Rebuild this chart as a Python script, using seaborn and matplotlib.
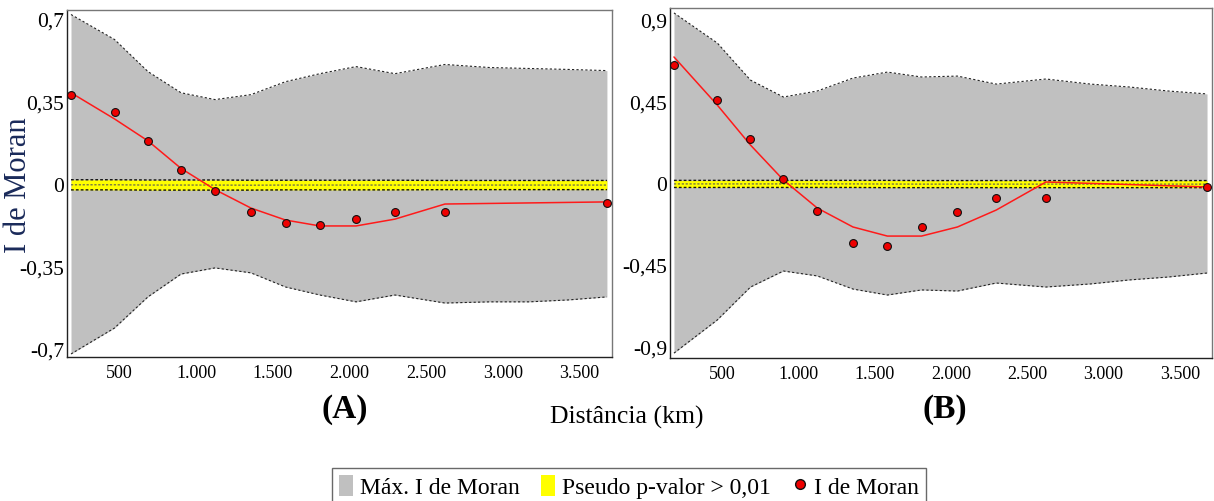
import matplotlib
matplotlib.use("Agg")
import matplotlib.pyplot as plt
from matplotlib.patches import Patch
from matplotlib.lines import Line2D
from matplotlib.ticker import FuncFormatter
import seaborn as sns

# Distance classes (km) where I de Moran was computed
dist = [182, 466, 684, 900, 1122, 1356, 1582, 1806, 2042, 2296, 2622, 3679]
# Distances of the envelope vertices
env_dist = [182, 466, 684, 900, 1122, 1356, 1582, 1806, 2042, 2296, 2622, 2915, 3170, 3425, 3679]

# Panel A
moran_a = [0.382, 0.310, 0.187, 0.064, -0.025, -0.115, -0.161, -0.170, -0.144, -0.115, -0.115, -0.076]
trend_a = [0.391, 0.280, 0.187, 0.070, -0.020, -0.098, -0.149, -0.174, -0.174, -0.145, -0.081, -0.072]
env_hi_a = [0.723, 0.617, 0.481, 0.391, 0.362, 0.383, 0.438, 0.472, 0.502, 0.472, 0.511, 0.498, 0.494, 0.490, 0.485]
env_lo_a = [-0.717, -0.607, -0.475, -0.378, -0.352, -0.373, -0.433, -0.467, -0.496, -0.467, -0.501, -0.496, -0.496, -0.488, -0.475]
band_hi_a = [0.022, 0.022, 0.021, 0.021, 0.021, 0.020, 0.020, 0.020, 0.020, 0.020, 0.019, 0.019, 0.019, 0.019, 0.019]
band_lo_a = [-0.021, -0.021, -0.022, -0.022, -0.022, -0.022, -0.021, -0.021, -0.021, -0.021, -0.020, -0.020, -0.020, -0.020, -0.020]

# Panel B
moran_b = [0.656, 0.459, 0.246, 0.027, -0.148, -0.322, -0.339, -0.235, -0.153, -0.077, -0.077, -0.016]
trend_b = [0.698, 0.434, 0.214, 0.022, -0.132, -0.236, -0.286, -0.286, -0.236, -0.143, 0.011, -0.016]
env_hi_b = [0.940, 0.775, 0.571, 0.478, 0.511, 0.582, 0.615, 0.588, 0.593, 0.549, 0.577, 0.549, 0.533, 0.511, 0.495]
env_lo_b = [-0.929, -0.747, -0.566, -0.478, -0.505, -0.577, -0.610, -0.582, -0.588, -0.544, -0.566, -0.549, -0.527, -0.511, -0.489]
band_hi_b = [0.020, 0.020, 0.020, 0.020, 0.020, 0.020, 0.020, 0.019, 0.019, 0.019, 0.019, 0.019, 0.019, 0.019, 0.019]
band_lo_b = [-0.019, -0.019, -0.019, -0.019, -0.019, -0.019, -0.020, -0.020, -0.020, -0.020, -0.020, -0.020, -0.020, -0.020, -0.020]

xticks = [500, 1000, 1500, 2000, 2500, 3000, 3500]
yticks_a = [-0.7, -0.35, 0, 0.35, 0.7]
yticks_b = [-0.9, -0.45, 0, 0.45, 0.9]

sns.set_style("white")
plt.rcParams['font.family'] = ['Liberation Serif', 'DejaVu Serif']
plt.rcParams['axes.unicode_minus'] = False
plt.rcParams['text.color'] = 'black'
plt.rcParams['xtick.color'] = 'black'
plt.rcParams['ytick.color'] = 'black'

GRAY = "#c0c0c0"
YELLOW = "#ffff00"
RED = "#ff1a1a"


def comma_fmt(v, pos):
    if abs(v) < 1e-9:
        return "0"
    s = ("%.2f" % v).rstrip("0").rstrip(".")
    return s.replace(".", ",")


def thousand_fmt(v, pos):
    return "{:,}".format(int(v)).replace(",", ".")


def draw_panel(ax, moran, trend, env_hi, env_lo, band_hi, band_lo, yticks, ylim):
    ax.fill_between(env_dist, env_lo, env_hi, color=GRAY, lw=0, zorder=1)
    ax.plot(env_dist, env_hi, color="#222222", lw=0.8, ls=(0, (2, 2)), zorder=2)
    ax.plot(env_dist, env_lo, color="#222222", lw=0.8, ls=(0, (2, 2)), zorder=2)

    # non significant band
    ax.fill_between(env_dist, band_lo, band_hi, color=YELLOW, lw=0, zorder=3)
    ax.plot(env_dist, band_hi, color="#111111", lw=1.0, ls=(0, (2, 1.5)), zorder=4)
    ax.plot(env_dist, band_lo, color="#111111", lw=1.0, ls=(0, (2, 1.5)), zorder=4)
    mid = [(h + l) / 2 for h, l in zip(band_hi, band_lo)]
    ax.plot(env_dist, mid, color="#555555", lw=0.8, ls=(0, (2, 1.5)), zorder=4)

    sns.lineplot(x=dist, y=trend, ax=ax, color=RED, lw=1.1, zorder=5)
    sns.scatterplot(x=dist, y=moran, ax=ax, color="#ee0000", edgecolor="#111111",
                    linewidth=0.8, s=32, zorder=6)

    ax.set_xlim(156, 3712)
    ax.set_ylim(*ylim)
    ax.set_xticks(xticks)
    ax.set_yticks(yticks)
    ax.xaxis.set_major_formatter(FuncFormatter(thousand_fmt))
    ax.yaxis.set_major_formatter(FuncFormatter(comma_fmt))
    ax.tick_params(axis="x", length=0, pad=6, labelsize=13)
    ax.tick_params(axis="y", length=0, pad=2, labelsize=15.5)
    ax.set_xlabel("")
    ax.set_ylabel("")
    for side in ["top", "right"]:
        ax.spines[side].set_color("#777777")
    for side in ["left", "bottom"]:
        ax.spines[side].set_color("#222222")
    for sp in ax.spines.values():
        sp.set_linewidth(1.0)


fig = plt.figure(figsize=(12.14, 5.01), dpi=100)
ax_a = fig.add_axes([0.0552, 0.2874, 0.4489, 0.6926])
ax_b = fig.add_axes([0.5519, 0.2854, 0.4465, 0.6986])

draw_panel(ax_a, moran_a, trend_a, env_hi_a, env_lo_a, band_hi_a, band_lo_a, yticks_a, (-0.730, 0.742))
draw_panel(ax_b, moran_b, trend_b, env_hi_b, env_lo_b, band_hi_b, band_lo_b, yticks_b, (-0.956, 0.967))

fig.text(0.015, 0.63, "I de Moran", rotation=90, ha="center", va="center",
         fontsize=22, color="#1a2a5a")
fig.text(0.284, 0.182, "(A)", ha="center", va="center", fontsize=24, fontweight="bold")
fig.text(0.778, 0.182, "(B)", ha="center", va="center", fontsize=24, fontweight="bold")
fig.text(0.516, 0.166, "Distância (km)", ha="center", va="center", fontsize=18.5)

handles = [
    Patch(facecolor=GRAY, edgecolor="none", label="Máx. I de Moran"),
    Patch(facecolor=YELLOW, edgecolor="none", label="Pseudo p-valor > 0,01"),
    Line2D([0], [0], marker="o", color="none", markerfacecolor="#ee0000",
           markeredgecolor="#111111", markersize=7, label="I de Moran"),
]
leg = fig.legend(handles=handles, loc="upper center", bbox_to_anchor=(0.518, 0.066),
                 ncol=3, fontsize=17, frameon=True, fancybox=False, borderpad=0.3,
                 handlelength=0.6, handleheight=1.0, handletextpad=0.3,
                 columnspacing=0.9, borderaxespad=0)
leg.get_frame().set_edgecolor("#444444")
leg.get_frame().set_linewidth(1.0)

fig.savefig("out.png", dpi=100)
